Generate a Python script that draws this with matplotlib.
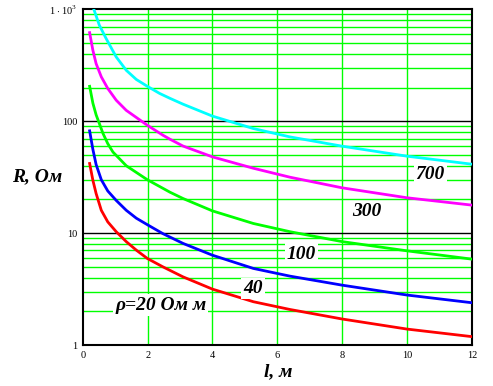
import numpy as np
import matplotlib
matplotlib.use('Agg')
import matplotlib.pyplot as plt

plt.rcParams['font.family'] = 'Liberation Serif'
plt.rcParams['mathtext.fontset'] = 'custom'
plt.rcParams['mathtext.rm'] = 'Liberation Serif'

# значения
l_700 = [0.34, 0.51, 0.72, 1.03, 1.34, 1.65, 1.99, 2.37, 2.69, 3.09, 4.0, 5.26, 6.39, 8.0, 10.0, 12.0]
R_700 = [1000, 720, 547, 375, 285, 236, 205, 177, 160, 142, 111, 86, 72.4, 59.8, 48.7, 41.3]

l_300 = [0.21, 0.31, 0.41, 0.57, 0.77, 1.03, 1.34, 1.65, 1.99, 2.47, 2.69, 3.09, 4.0, 5.26, 6.39, 8.0, 10.0, 12.0]
R_300 = [618, 430, 327, 249, 196, 154, 125, 108, 92, 75, 69, 60, 48, 38, 31.6, 25.4, 20.7, 17.8]

l_100 = [0.21, 0.31, 0.41, 0.5, 0.62, 0.77, 0.93, 1.34, 1.99, 2.69, 3.09, 4.0, 5.26, 6.39, 8.0, 10.0, 12.0]
R_100 = [205, 145, 114, 97, 78, 63, 53, 40, 30, 23.2, 20.4, 15.8, 12.2, 10.3, 8.4, 6.95, 5.86]

l_40 = [0.21, 0.31, 0.41, 0.57, 0.77, 1.03, 1.34, 1.65, 1.99, 2.47, 3.09, 4.0, 5.26, 6.39, 8.0, 10.0, 12.0]
R_40 = [82, 56, 41, 30, 23.8, 19.6, 16, 13.6, 11.9, 9.9, 8.1, 6.35, 4.84, 4.13, 3.43, 2.8, 2.39]

l_20 = [0.21, 0.31, 0.41, 0.57, 0.77, 1.03, 1.34, 1.65, 1.99, 2.47, 3.09, 4.0, 5.26, 6.39, 8.0, 10.0, 12.0]
R_20 = [41.9, 29.7, 22.6, 16, 12.6, 10.3, 8.4, 7.05, 5.94, 5.0, 4.07, 3.16, 2.44, 2.08, 1.71, 1.39, 1.19]

x_ticks = [0, 2, 4, 6, 8, 10, 12]
y_ticks = [1, 10, 100, 1000]
y_labels = ['1', '10', '100', r'$1\cdot10^{3}$']

fig = plt.figure(figsize=(4.93, 3.86), dpi=100)
ax = fig.add_axes([0.168, 0.106, 0.789, 0.870])

ax.set_yscale('log')
ax.set_xlim(0, 12)
ax.set_ylim(1, 1000)

# сетка
for v in [2, 4, 6, 8, 10]:
    ax.axvline(v, color='#00ff00', lw=1.0, zorder=1)
for dec in [1, 10, 100]:
    for m in range(2, 10):
        ax.axhline(dec * m, color='#00ff00', lw=1.0, zorder=1)
for v in [10, 100]:
    ax.axhline(v, color='black', lw=1.0, zorder=1)

ax.plot(l_700, R_700, color='#00ffff', lw=2, zorder=3)
ax.plot(l_300, R_300, color='#ff00ff', lw=2, zorder=3)
ax.plot(l_100, R_100, color='#00ff00', lw=2, zorder=3)
ax.plot(l_40, R_40, color='#0000ff', lw=2, zorder=3)
ax.plot(l_20, R_20, color='#ff0000', lw=2, zorder=3)

box = dict(facecolor='white', edgecolor='none', pad=1.5)
tkw = dict(fontsize=14, fontweight='bold', fontstyle='italic', ha='center',
           va='center', bbox=box, zorder=4)
ax.text(10.72, 33.5, '700', **tkw)
ax.text(8.75, 15.5, '300', **tkw)
ax.text(6.75, 6.5, '100', **tkw)
ax.text(5.26, 3.2, '40', **tkw)
ax.text(2.4, 2.28, 'ρ=20 Ом м', **tkw)

ax.set_xticks(x_ticks)
ax.set_xticklabels([str(t) for t in x_ticks])
ax.set_yticks(y_ticks)
ax.set_yticklabels(y_labels)
ax.minorticks_off()
ax.tick_params(length=0, labelsize=7.5, pad=4)

for s in ax.spines.values():
    s.set_linewidth(1.5)
    s.set_color('black')

fig.text(37 / 493, 1 - 177 / 386, 'R, Ом', fontsize=14, fontweight='bold',
         fontstyle='italic', ha='center', va='center')
fig.text(278 / 493, 1 - 372 / 386, 'l, м', fontsize=14, fontweight='bold',
         fontstyle='italic', ha='center', va='center')

fig.savefig('out.png', dpi=100)
